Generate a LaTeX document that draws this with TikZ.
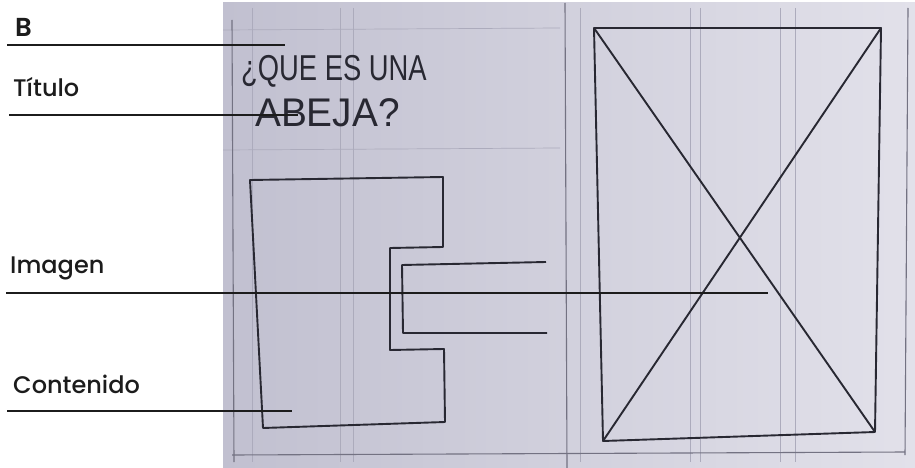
\documentclass[tikz,border=0pt]{standalone}
\usepackage{fontspec}
\setmainfont{Poppins}[UprightFont=* Medium, BoldFont=* SemiBold]
\newfontfamily\handfont{Liberation Sans}
\usetikzlibrary{positioning,calc}
\definecolor{paperdark}{RGB}{193,192,208}
\definecolor{paperlight}{RGB}{226,225,234}
\definecolor{pencil}{RGB}{40,40,50}
\definecolor{greypencil}{RGB}{115,114,130}
\definecolor{faintpencil}{RGB}{172,171,188}
\definecolor{inkblack}{RGB}{28,28,28}

\begin{document}
\begin{tikzpicture}[x=1pt, y=-1pt,
        tag/.style={anchor=base west, inner sep=0pt, text=inkblack, font=\fontsize{24}{26}\selectfont},
        leader/.style={draw=inkblack, line width=2.4pt},
        sketch/.style={draw=pencil, line width=1.9pt, line join=round},
        border/.style={draw=greypencil, line width=1.1pt},
        guide/.style={draw=faintpencil, line width=0.7pt},
        hand/.style={anchor=base west, inner sep=0pt, text=pencil, font=\handfont\fontsize{36}{38}\selectfont}
    ]
        \useasboundingbox (0,0) rectangle (915,468);

        % Photo of the sketch
        \fill[left color=paperdark, right color=paperlight] (223,3) rectangle (915,468);

        % Pencil guides
        \foreach \gx in {252,340,353,580,690,700,780,795}
            \draw[guide] (\gx,8) -- (\gx,462);
        \draw[guide] (223,30) -- (560,28);
        \draw[guide] (223,150) -- (560,148);
        \draw[border] (232,20) -- (234,462);
        \draw[border] (565,3) -- (567,468);
        \draw[border] (908,8) -- (905,455);
        \draw[border] (232,455) -- (905,452);

        % Handwritten title
        \node[hand] (q1) at (241,81) {\scalebox{0.76}[1]{¿QUE ES UNA}};
        \node[hand, font=\handfont\fontsize{40}{42}\selectfont] (q2) at (255,127) {\scalebox{0.97}[1]{ABEJA?}};

        % Content block
        \coordinate (c1) at (250,180);
        \coordinate (c2) at (443,177);
        \coordinate (c3) at (443,247);
        \coordinate (c4) at (390,248);
        \coordinate (c5) at (390,350);
        \coordinate (c6) at (444,349);
        \coordinate (c7) at (445,422);
        \coordinate (c8) at (263,428);
        \draw[sketch] (c1) -- (c2) -- (c3) -- (c4) -- (c5) -- (c6) -- (c7) -- (c8) -- cycle;

        % Image slot
        \coordinate (i1) at (546,262);
        \coordinate (i2) at (402,265);
        \coordinate (i3) at (403,333);
        \coordinate (i4) at (547,333);
        \draw[sketch] (i1) -- (i2) -- (i3) -- (i4);

        % Image frame
        \coordinate (fa) at (594,28);
        \coordinate (fb) at (881,28);
        \coordinate (fc) at (875,432);
        \coordinate (fd) at (603,441);
        \draw[sketch] (fa) -- (fb) -- (fc) -- (fd) -- cycle;
        \draw[sketch] (fa) -- (fc);
        \draw[sketch] (fb) -- (fd);

        % Labels
        \node[tag, font=\bfseries\fontsize{26}{28}\selectfont] (lblB) at (15,37) {B};
        \node[tag] (lblTitulo) at (13,97) {Título};
        \node[tag] (lblImagen) at (10,273) {Imagen};
        \node[tag] (lblContenido) at (13,393) {Contenido};

        % Leaders
        \coordinate (lB0) at (7,45);       \coordinate (lB1) at (285,45);
        \coordinate (lT0) at (9,115);      \coordinate (lT1) at (298,115);
        \coordinate (lI0) at (6,293);      \coordinate (lI1) at (768,293);
        \coordinate (lC0) at (7,411);      \coordinate (lC1) at (292,411);
        \draw[leader] (lB0) -- (lB1);
        \draw[leader] (lT0) -- (lT1);
        \draw[leader] (lI0) -- (lI1);
        \draw[leader] (lC0) -- (lC1);

    \end{tikzpicture}
\end{document}
